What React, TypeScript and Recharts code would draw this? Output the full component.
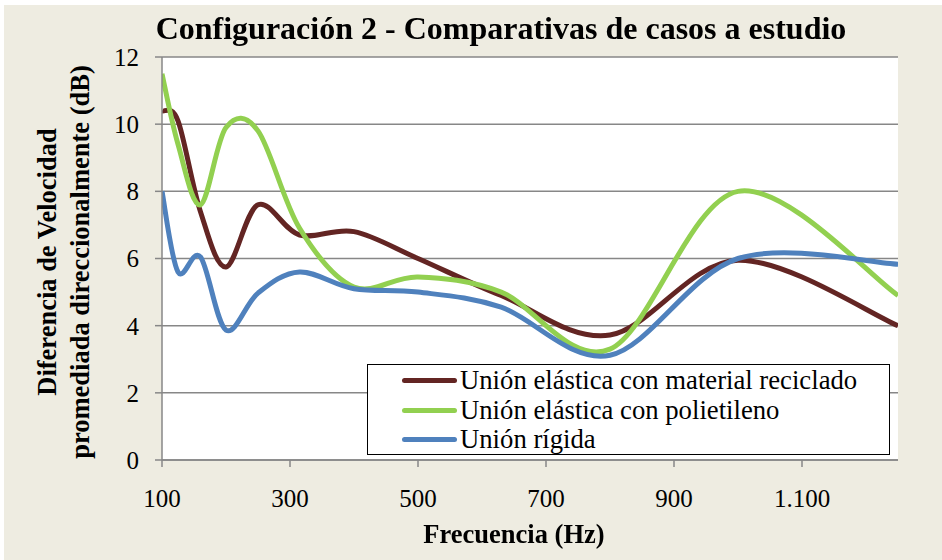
import React from "react";
import {
  LineChart,
  Line,
  XAxis,
  YAxis,
  CartesianGrid,
  Legend,
} from "recharts";

// third-octave bands (Hz)
const frequencies = [100, 125, 160, 200, 250, 315, 400, 500, 630, 800, 1000, 1250];

const recycled = [10.4, 10.1, 7.4, 5.75, 7.6, 6.7, 6.8, 6.0, 4.9, 3.72, 5.95, 4.0];
const polyethylene = [11.5, 9.4, 7.6, 9.9, 9.8, 6.9, 5.15, 5.45, 5.0, 3.3, 8.0, 4.9];
const rigid = [8.0, 5.6, 6.05, 3.87, 4.97, 5.6, 5.1, 5.0, 4.55, 3.12, 6.0, 5.83];

const xTicks = [100, 300, 500, 700, 900, 1100];
const yTicks = [0, 2, 4, 6, 8, 10, 12];

const seriesNames = [
  "Unión elástica con material reciclado",
  "Unión elástica con polietileno",
  "Unión rígida",
];

const data = frequencies.map((f, i) => ({
  f,
  recycled: recycled[i],
  polyethylene: polyethylene[i],
  rigid: rigid[i],
}));

const FONT = '"Liberation Serif", "Times New Roman", serif';
const GRID = "#878787";

// Excel-like smoothed line (Catmull-Rom through every point)
// eslint-disable-next-line @typescript-eslint/no-explicit-any
const excelSmooth = (context: any) => {
  let pts: number[][] = [];
  return {
    areaStart() {},
    areaEnd() {},
    lineStart() {
      pts = [];
    },
    lineEnd() {
      const n = pts.length;
      if (!n) return;
      context.moveTo(pts[0][0], pts[0][1]);
      for (let i = 0; i < n - 1; i++) {
        const p0 = pts[Math.max(i - 1, 0)];
        const p1 = pts[i];
        const p2 = pts[i + 1];
        const p3 = pts[Math.min(i + 2, n - 1)];
        context.bezierCurveTo(
          p1[0] + (p2[0] - p0[0]) / 6,
          p1[1] + (p2[1] - p0[1]) / 6,
          p2[0] - (p3[0] - p1[0]) / 6,
          p2[1] - (p3[1] - p1[1]) / 6,
          p2[0],
          p2[1]
        );
      }
    },
    point(x: number, y: number) {
      pts.push([+x, +y]);
    },
  };
};

const formatFreq = (v: number) =>
  v >= 1000 ? `${Math.floor(v / 1000)}.${String(v % 1000).padStart(3, "0")}` : `${v}`;

// eslint-disable-next-line @typescript-eslint/no-explicit-any
const LegendBox = ({ payload }: any) => (
  <div
    style={{
      border: "1.5px solid #000",
      background: "#fff",
      padding: "1px 0 4px 34px",
      fontFamily: FONT,
      fontSize: 26.7,
      lineHeight: "29.5px",
      color: "#000",
      boxSizing: "border-box",
      width: 523,
      height: 91,
    }}
  >
    {(payload || []).map((p: any) => (
      <div key={p.value} style={{ display: "flex", alignItems: "center" }}>
        <span
          style={{
            display: "inline-block",
            width: 55,
            height: 5,
            borderRadius: 3,
            background: p.color,
            marginRight: 3,
          }}
        />
        <span>{p.value}</span>
      </div>
    ))}
  </div>
);

export default function App() {
  return (
    <div
      style={{
        position: "fixed",
        left: 0,
        top: 0,
        width: 942,
        height: 560,
        background: "#fff",
        fontFamily: FONT,
      }}
    >
      <div
        style={{
          position: "absolute",
          left: 4,
          top: 5,
          width: 938,
          height: 555,
          background: "#EEECE1",
        }}
      >
        <LineChart
          width={938}
          height={555}
          data={data}
          margin={{ top: 52, right: 44, left: 0, bottom: 0 }}
        >
          <CartesianGrid
            vertical={false}
            stroke={GRID}
            strokeWidth={1.5}
            fill="#fff"
          />
          <XAxis
            dataKey="f"
            type="number"
            domain={[100, 1250]}
            ticks={xTicks}
            tickFormatter={formatFreq}
            height={100}
            stroke={GRID}
            strokeWidth={1.5}
            tickSize={7}
            tickMargin={22}
            tick={{ fontSize: 25, fill: "#000", fontFamily: FONT }}
            allowDataOverflow
          />
          <YAxis
            type="number"
            domain={[0, 12]}
            ticks={yTicks}
            width={158}
            stroke={GRID}
            strokeWidth={1.5}
            tickSize={7}
            tickMargin={16}
            tick={{ fontSize: 25, fill: "#000", fontFamily: FONT }}
          />
          <Legend
            layout="vertical"
            align="center"
            verticalAlign="middle"
            content={<LegendBox />}
            wrapperStyle={{ left: 363, top: 359, width: 523, height: 91 }}
          />
          <Line
            type={excelSmooth as any}
            dataKey="recycled"
            name={seriesNames[0]}
            stroke="#632523"
            strokeWidth={5}
            dot={false}
            activeDot={false}
            isAnimationActive={false}
          />
          <Line
            type={excelSmooth as any}
            dataKey="polyethylene"
            name={seriesNames[1]}
            stroke="#92D050"
            strokeWidth={5}
            dot={false}
            activeDot={false}
            isAnimationActive={false}
          />
          <Line
            type={excelSmooth as any}
            dataKey="rigid"
            name={seriesNames[2]}
            stroke="#4F81BD"
            strokeWidth={5}
            dot={false}
            activeDot={false}
            isAnimationActive={false}
          />
        </LineChart>

        <div
          style={{
            position: "absolute",
            left: 0,
            width: 994,
            top: 3,
            textAlign: "center",
            fontWeight: "bold",
            fontSize: 32,
            lineHeight: "40px",
            whiteSpace: "nowrap",
          }}
        >
          Configuración 2 - Comparativas de casos a estudio
        </div>

        <div
          style={{
            position: "absolute",
            left: 0,
            width: 1020,
            top: 513,
            textAlign: "center",
            fontWeight: "bold",
            fontSize: 26.5,
            lineHeight: "32px",
            whiteSpace: "nowrap",
          }}
        >
          Frecuencia (Hz)
        </div>

        <div
          style={{
            position: "absolute",
            left: 60 - 210,
            top: 257 - 33,
            width: 420,
            height: 66,
            textAlign: "center",
            fontWeight: "bold",
            fontSize: 26.5,
            lineHeight: "33px",
            whiteSpace: "nowrap",
            transform: "rotate(-90deg)",
            transformOrigin: "50% 50%",
          }}
        >
          <div>Diferencia de Velocidad</div>
          <div>promediada direccionalmente (dB)</div>
        </div>
      </div>
    </div>
  );
}
